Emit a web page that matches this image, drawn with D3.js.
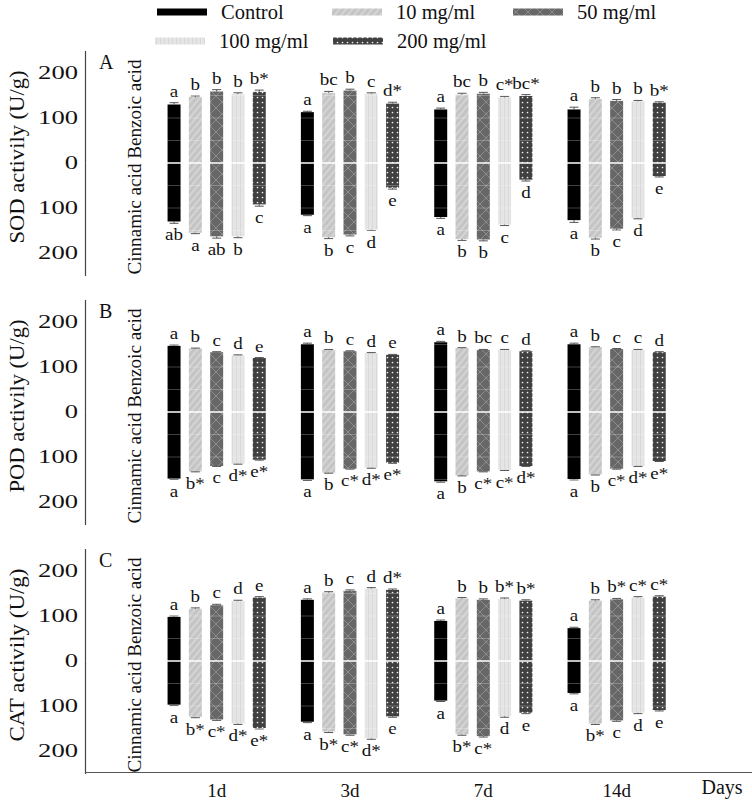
<!DOCTYPE html>
<html><head><meta charset="utf-8">
<script src="https://cdn.jsdelivr.net/npm/d3@7"></script>
<style>body{margin:0;background:#fff}svg{display:block}</style>
</head><body>
<script>
const days = ["1d","3d","7d","14d"];
const series = ["Control","10 mg/ml","50 mg/ml","100 mg/ml","200 mg/ml"];
const tickValues = [-200,-100,0,100,200];

// SOD (panel A): Benzoic acid (up) / Cinnamic acid (down), [day][series]
const sodBenzoic  = [[130,147,159,153,158],[113,156,161,154,132],[119,152,154,146,149],[119,142,138,137,134]];
const sodCinnamic = [[130,155,163,163,92],[115,165,159,148,55],[120,169,170,137,37],[127,166,146,122,29]];
const sodErr = [[4,2,4,3,4],[2,3,3,2,3],[3,3,3,2,3],[5,3,3,2,2]];
const sodTopLab = [["a","b","b","b","b*"],["a","bc","b","c","d*"],["a","bc","b","c*","bc*"],["a","b","b","b","b*"]];
const sodBotLab = [["ab","a","ab","b","c"],["a","b","c","d","e"],["a","b","b","c","d"],["a","b","c","d","e"]];

// POD (panel B)
const podBenzoic  = [[147,141,133,126,120],[151,138,135,131,127],[155,142,138,138,135],[151,144,140,138,133]];
const podCinnamic = [[148,132,120,115,106],[150,135,126,124,113],[154,141,132,129,120],[149,139,126,120,109]];
const podErr = [[2,1,1,1,1],[2,1,1,1,1],[2,1,1,1,1],[2,1,1,1,1]];
const podTopLab = [["a","b","c","d","e"],["a","b","c","d","e"],["a","b","bc","c","d"],["a","b","c","c","d"]];
const podBotLab = [["a","b*","c","d*","e*"],["a","b","c*","d*","e*"],["a","b","c*","c*","d*"],["a","b","c*","d*","e*"]];

// CAT (panel C)
const catBenzoic  = [[98,116,124,133,141],[136,152,156,161,158],[89,139,136,138,134],[73,134,137,141,143]];
const catCinnamic = [[97,124,130,139,149],[135,157,163,172,123],[88,163,167,123,115],[71,139,132,115,109]];
const catErr = [[2,2,2,2,2],[2,2,2,2,2],[2,2,2,2,2],[2,2,2,2,2]];
const catTopLab = [["a","b","c","d","e"],["a","b","c","d","d*"],["a","b","b","b*","b*"],["a","b","b*","c*","c*"]];
const catBotLab = [["a","b*","c*","d*","e*"],["a","b*","c*","d*","e"],["a","b*","c*","d","e"],["a","b*","c","d","e"]];

const panels = [
  {letter:"A", title:"SOD activily (U/g)", up:sodBenzoic, down:sodCinnamic, err:sodErr, topLab:sodTopLab, botLab:sodBotLab},
  {letter:"B", title:"POD activily (U/g)", up:podBenzoic, down:podCinnamic, err:podErr, topLab:podTopLab, botLab:podBotLab},
  {letter:"C", title:"CAT activily (U/g)", up:catBenzoic, down:catCinnamic, err:catErr, topLab:catTopLab, botLab:catBotLab}
];

const W = 752, H = 802;
const serif = "'Liberation Serif','Times New Roman',serif";
const svg = d3.select("body").append("svg").attr("width",W).attr("height",H)
  .style("font-family", serif);

// patterns
const defs = svg.append("defs");
const fills = ["#000", "url(#p10)", "url(#p50)", "url(#p100)", "url(#p200)"];
{
  const p = defs.append("pattern").attr("id","p10").attr("patternUnits","userSpaceOnUse")
    .attr("width",5).attr("height",5).attr("patternTransform","rotate(40)");
  p.append("rect").attr("width",5).attr("height",5).attr("fill","#c4c4c4");
  p.append("line").attr("x1",1).attr("x2",1).attr("y1",0).attr("y2",5).attr("stroke","#d8d8d8").attr("stroke-width",1.6);
}
{
  const p = defs.append("pattern").attr("id","p50").attr("patternUnits","userSpaceOnUse")
    .attr("width",12).attr("height",12);
  p.append("rect").attr("width",12).attr("height",12).attr("fill","#676767");
  p.append("path").attr("d","M0,0L12,12M12,0L0,12").attr("stroke","#959595").attr("stroke-width",0.8).attr("fill","none");
}
{
  const p = defs.append("pattern").attr("id","p100").attr("patternUnits","userSpaceOnUse")
    .attr("width",4).attr("height",4);
  p.append("rect").attr("width",4).attr("height",4).attr("fill","#e5e5e5");
  p.append("line").attr("x1",0.5).attr("x2",0.5).attr("y1",0).attr("y2",4).attr("stroke","#d9d9d9").attr("stroke-width",1);
}
{
  const p = defs.append("pattern").attr("id","p200").attr("patternUnits","userSpaceOnUse")
    .attr("width",5).attr("height",5);
  p.append("rect").attr("width",5).attr("height",5).attr("fill","#404040");
  p.append("circle").attr("cx",2.5).attr("cy",2.5).attr("r",0.85).attr("fill","#f0f0f0");
}

// scales
const x = d3.scaleBand().domain(days).range([150, 683.3]);
const xi = d3.scaleBand().domain(series).range([-49.1, 49.1]).paddingInner(0.39).paddingOuter(0);
const axisX = 85;
const panelTops = [50.5, 299.5, 548.5];
const panelH = 225;

panels.forEach((P, pi) => {
  const y = d3.scaleLinear().domain([-250, 250]).range([panelTops[pi] + panelH, panelTops[pi]]);
  const g = svg.append("g");
  const y0 = y(0);

  // y axis
  const ax = g.append("g").attr("transform", `translate(${axisX},0)`)
    .call(d3.axisLeft(y).tickValues(tickValues).tickSize(0).tickPadding(7).tickFormat(d => Math.abs(d)));
  ax.select(".domain").attr("stroke","#444").attr("stroke-width",1.2);
  ax.selectAll("text").attr("font-family", serif).attr("font-size",18).attr("fill","#111")
    .attr("textLength", d => String(Math.abs(d)).length * 13.3).attr("lengthAdjust","spacingAndGlyphs");

  // titles
  g.append("text").attr("transform", `translate(24,${y0 - 6}) rotate(-90)`)
    .attr("text-anchor","middle").attr("font-size",21).attr("fill","#111")
    .attr("textLength",173).attr("lengthAdjust","spacingAndGlyphs").text(P.title);
  g.append("text").attr("transform", `translate(141,${y0 + 4}) rotate(-90)`)
    .attr("text-anchor","middle").attr("font-size",19).attr("fill","#111")
    .attr("textLength",215).attr("lengthAdjust","spacingAndGlyphs").text("Cinnamic acid Benzoic acid");
  g.append("text").attr("x",99).attr("y", y0 - 94).attr("font-size",20).attr("fill","#111").text(P.letter);

  days.forEach((day, di) => {
    const cx0 = x(day) + x.bandwidth() / 2;
    series.forEach((s, si) => {
      const bx = cx0 + xi(s);
      const bw = xi.bandwidth();
      const cx = bx + bw / 2;
      const up = P.up[di][si], dn = P.down[di][si], e = P.err[di][si];
      // bars
      g.append("rect").attr("x",bx).attr("width",bw).attr("y",y(up)).attr("height",y0 - y(up)).attr("fill",fills[si]);
      g.append("rect").attr("x",bx).attr("width",bw).attr("y",y0).attr("height",y(-dn) - y0).attr("fill",fills[si]);
      // error bars
      const eb = g.append("g").attr("stroke","#555").attr("stroke-width",1);
      eb.append("line").attr("x1",cx).attr("x2",cx).attr("y1",y(up)).attr("y2",y(up + e));
      eb.append("line").attr("x1",cx - 4.5).attr("x2",cx + 4.5).attr("y1",y(up + e)).attr("y2",y(up + e));
      eb.append("line").attr("x1",cx).attr("x2",cx).attr("y1",y(-dn)).attr("y2",y(-dn - e));
      eb.append("line").attr("x1",cx - 4.5).attr("x2",cx + 4.5).attr("y1",y(-dn - e)).attr("y2",y(-dn - e));
      // letters
      g.append("text").attr("transform", `translate(${cx},${y(up + e) - 6}) scale(1.12,1)`)
        .attr("text-anchor","middle").attr("font-size",17).attr("fill","#111").text(P.topLab[di][si]);
      g.append("text").attr("transform", `translate(${cx},${y(-dn - e) + 17}) scale(1.12,1)`)
        .attr("text-anchor","middle").attr("font-size",17).attr("fill","#111").text(P.botLab[di][si]);
    });
  });

  // faint gridlines over bars and white zero line
  [-150,-100,-50,50,100,150].forEach(v => {
    g.append("line").attr("x1",axisX + 1).attr("x2",W).attr("y1",y(v)).attr("y2",y(v))
      .attr("stroke","#fff").attr("stroke-opacity",0.25).attr("stroke-width",1);
  });
  g.append("line").attr("x1",axisX + 1).attr("x2",W).attr("y1",y0).attr("y2",y0)
    .attr("stroke","#fff").attr("stroke-width",1.5);

  if (pi === 2) {
    const xa = svg.append("g").attr("transform", `translate(0,${panelTops[pi] + panelH - 1})`)
      .call(d3.axisBottom(x).tickSize(0).tickPadding(16));
    xa.select(".domain").attr("d", `M${axisX},0H${W}`).attr("stroke","#555").attr("stroke-width",1.2);
    xa.selectAll("text").attr("font-family", serif).attr("font-size",19).attr("fill","#111")
      .attr("dy", "0.71em").attr("y", 11);
    svg.append("text").attr("x",722).attr("y",794).attr("text-anchor","middle")
      .attr("font-size",20).attr("fill","#111").text("Days");
  }
});

// legend
const legendPos = [[157,12],[332,12],[513,12],[155,41],[333,41]];
series.forEach((s, si) => {
  const [lx, ly] = legendPos[si];
  svg.append("rect").attr("x",lx).attr("y",ly - 3.5).attr("width",50).attr("height",7).attr("fill",fills[si]);
  svg.append("text").attr("x",lx + 64).attr("y",ly + 7).attr("font-size",20.5).attr("fill","#111").text(s);
});
</script>
</body></html>
